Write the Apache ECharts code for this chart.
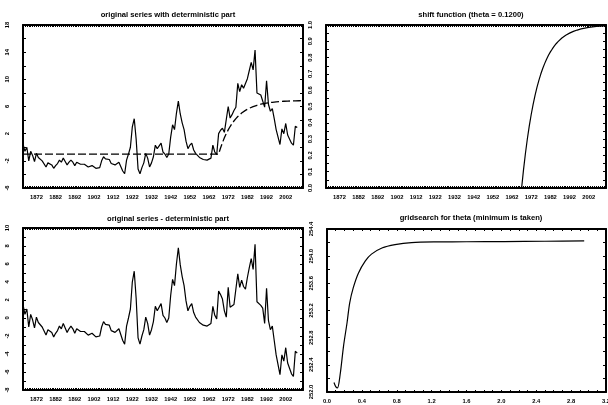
<!DOCTYPE html>
<html><head><meta charset="utf-8">
<script src="https://cdn.jsdelivr.net/npm/echarts@6/dist/echarts.min.js"></script>
<style>html,body{margin:0;padding:0;background:#fff}#c{width:608px;height:405px}</style>
</head><body><div id="c"></div>
<script>
// ---------- data ----------
const firstYear = 1865;
const original = [
  0.5, -0.6, 0.0, -2.0, -0.6, -1.2, -2.1, -0.9, -1.5, -1.7,
  -2.0, -1.9, -2.9, -2.3, -2.1, -2.6, -3.1, -2.7, -2.4, -1.9,
  -2.2, -1.6, -2.1, -2.6, -2.2, -1.9, -2.2, -2.7, -2.2, -2.1,
  -2.5, -2.4, -2.5, -2.7, -2.9, -2.8, -2.7, -2.8, -3.1, -3.0,
  -3.0, -2.0, -1.4, -1.7, -1.6, -1.8, -2.4, -2.6, -2.6, -2.8,
  -2.2, -2.4, -3.5, -3.9, -1.9, -1.0, 0.0, 3.0, 4.2, 1.2,
  -3.2, -3.9, -3.0, -2.3, -0.9, -1.6, -2.9, -2.3, -1.4, 0.3,
  -0.2, 0.0, 0.6, -0.7, -1.0, -1.5, -1.0, 1.5, 3.3, 2.6,
  5.0, 6.8, 4.9, 3.6, 2.6, 0.9, -0.2, 0.3, 0.6, -0.4,
  -0.9, -1.0, -1.5, -1.7, -1.8, -2.0, -1.9, -2.0, -1.6, 0.3,
  -0.7, -1.1, 2.0, 2.5, 2.8, 2.2, 2.1, 6.0, 4.3, 4.8,
  5.4, 5.9, 9.4, 8.2, 9.2, 8.7, 8.6, 10.1, 11.3, 12.5,
  11.4, 14.3, 8.0, 7.9, 7.7, 7.5, 5.9, 9.8, 6.3, 5.3,
  5.7, 4.2, 2.6, 2.6, 0.4, 2.7, 2.0, 3.5, 1.8, 1.7,
  0.6, 0.3, 3.1, 2.9
];
const residual = [
  1.5, 0.4, 1.0, -1.0, 0.4, -0.2, -1.1, 0.1, -0.5, -0.7,
  -1.0, -0.9, -1.9, -1.3, -1.1, -1.6, -2.1, -1.7, -1.4, -0.9,
  -1.2, -0.6, -1.1, -1.6, -1.2, -0.9, -1.2, -1.7, -1.2, -1.1,
  -1.5, -1.4, -1.5, -1.7, -1.9, -1.8, -1.7, -1.8, -2.1, -2.0,
  -2.0, -1.0, -0.4, -0.7, -0.6, -0.8, -1.4, -1.6, -1.6, -1.8,
  -1.2, -1.4, -2.5, -2.9, -0.9, 0.0, 1.0, 4.0, 5.2, 2.2,
  -2.2, -2.9, -2.0, -1.3, 0.1, -0.6, -1.9, -1.3, -0.4, 1.3,
  0.8, 1.0, 1.6, 0.3, 0.0, -0.5, 0.0, 2.5, 4.3, 3.6,
  6.0, 7.8, 5.9, 4.6, 3.6, 1.9, 0.8, 1.3, 1.6, 0.6,
  0.1, 0.0, -0.5, -0.7, -0.8, -1.0, -0.9, -1.0, -0.6, 1.3,
  0.3, -0.1, 3.0, 2.6, 2.1, 0.8, 0.1, 3.4, 1.2, 1.3,
  1.5, 1.7, 4.9, 3.4, 4.2, 3.5, 3.2, 4.5, 5.6, 6.6,
  5.4, 8.2, 1.8, 1.6, 1.4, 1.1, -0.6, 3.3, -0.3, -1.3,
  -0.9, -2.5, -4.1, -4.1, -6.3, -4.1, -4.8, -3.3, -5.0, -5.1,
  -6.2, -6.5, -3.7, -3.9
];
const detYears = [1865, 1967, 1968, 1969, 1970, 1971, 1972, 1973, 1974, 1975, 1976, 1977, 1978, 1979, 1980,
  1981, 1982, 1983, 1984, 1985, 1986, 1987, 1988, 1989, 1990, 1991, 1992, 1993, 1994, 1995, 1996,
  1997, 1998, 1999, 2000, 2001, 2002, 2003, 2004, 2005, 2006, 2007, 2008, 2009, 2010, 2011];
const detValues = [-1.0, -1.0, -0.11, 0.68, 1.39, 2.01, 2.56, 3.05, 3.49, 3.87, 4.21, 4.52, 4.79, 5.03, 5.24,
  5.43, 5.60, 5.74, 5.87, 5.99, 6.09, 6.18, 6.27, 6.34, 6.40, 6.46, 6.51, 6.55, 6.59, 6.62, 6.66,
  6.69, 6.71, 6.73, 6.75, 6.77, 6.78, 6.79, 6.81, 6.82, 6.83, 6.84, 6.84, 6.85, 6.85, 6.86];
const shiftYears = detYears;
const shiftValues = [0, 0, 0.113, 0.213, 0.302, 0.381, 0.451, 0.513, 0.568, 0.617, 0.660, 0.699, 0.733, 0.763, 0.790,
  0.814, 0.835, 0.853, 0.870, 0.885, 0.898, 0.909, 0.920, 0.929, 0.937, 0.944, 0.950, 0.956, 0.961, 0.965, 0.969,
  0.973, 0.976, 0.979, 0.981, 0.983, 0.985, 0.987, 0.988, 0.990, 0.991, 0.992, 0.993, 0.994, 0.994, 0.995];
const thetaGrid = [0.08, 0.10, 0.12, 0.15, 0.19, 0.23, 0.26, 0.30, 0.36, 0.44, 0.51, 0.63, 0.78, 0.97, 1.27, 1.6, 2.03, 2.5, 2.95];
const gridValues = [252.14, 252.08, 252.06, 252.25, 252.68, 253.02, 253.31, 253.53, 253.75, 253.93, 254.03, 254.12, 254.17, 254.20, 254.21, 254.212, 254.215, 254.22, 254.225];

// tick labels
const yearLabels = [1872, 1882, 1892, 1902, 1912, 1922, 1932, 1942, 1952, 1962, 1972, 1982, 1992, 2002];
const tlYLabels = [-6, -2, 2, 6, 10, 14, 18];
const trYLabels = [0.0, 0.1, 0.2, 0.3, 0.4, 0.5, 0.6, 0.7, 0.8, 0.9, 1.0];
const blYLabels = [-8, -6, -4, -2, 0, 2, 4, 6, 8, 10];
const brYLabels = [252.0, 252.4, 252.8, 253.2, 253.6, 254.0, 254.4];
const brXLabels = [0.0, 0.4, 0.8, 1.2, 1.6, 2.0, 2.4, 2.8, 3.2];

const titles = [
  'original series with deterministic part',
  'shift function (theta = 0.1200)',
  'original series - deterministic part',
  'gridsearch for theta (minimum is taken)'
];

// ---------- helpers ----------
function steps(a, b, s) { const r = []; const n = Math.round((b - a) / s); for (let i = 0; i <= n; i++) r.push(+(a + i * s).toFixed(4)); return r; }
const FONT = 'Liberation Sans';
const lblStyle = { fontSize: 5.8, fontWeight: 'bold', color: '#000', fontFamily: FONT };

const xAxes = [], yAxes = [];
function addFrame(gi, xr, yr, xLab, xTicks, yLab, yTicks, xFmt, yFmt) {
  ['bottom', 'top'].forEach((pos, k) => {
    xAxes.push({
      type: 'value', gridIndex: gi, position: pos, min: xr[0], max: xr[1],
      axisLine: { show: true, onZero: false, lineStyle: { color: '#000', width: 2 } },
      axisTick: { show: true, inside: true, length: 2, customValues: xTicks, lineStyle: { color: '#000', width: 1 } },
      axisLabel: Object.assign({ show: k === 0, customValues: xLab, formatter: xFmt, margin: 6 }, lblStyle),
      splitLine: { show: false }
    });
  });
  ['left', 'right'].forEach((pos, k) => {
    yAxes.push({
      type: 'value', gridIndex: gi, position: pos, min: yr[0], max: yr[1],
      axisLine: { show: true, onZero: false, lineStyle: { color: '#000', width: 2 } },
      axisTick: { show: true, inside: true, length: 3, customValues: yTicks, lineStyle: { color: '#000', width: 1 } },
      axisLabel: Object.assign({ show: k === 0, customValues: yLab, formatter: yFmt, rotate: 90, margin: 13 }, lblStyle),
      splitLine: { show: false }
    });
  });
}
const intFmt = v => String(Math.round(v));
const f1 = v => (+v).toFixed(1);
const yearTicks = steps(1865, 2011, 1);

addFrame(0, [1865, 2011], [-6, 18], yearLabels, yearTicks, tlYLabels, steps(-6, 18, 2), intFmt, intFmt);
addFrame(1, [1865, 2011], [0, 1], yearLabels, yearTicks, trYLabels, steps(0, 1, 0.05), intFmt, f1);
addFrame(2, [1865, 2011], [-8, 10], yearLabels, yearTicks, blYLabels, steps(-8, 10, 1), intFmt, intFmt);
addFrame(3, [0, 3.2], [252.0, 254.4], brXLabels, steps(0, 3.2, 0.1), brYLabels, steps(252, 254.4, 0.2), f1, f1);

const yearsOf = arr => arr.map((v, i) => [firstYear + i, v]);
const zipXY = (xs, ys) => xs.map((x, i) => [x, ys[i]]);
const lineBase = { type: 'line', showSymbol: false, symbol: 'none', animation: false, clip: true };

const option = {
  animation: false,
  backgroundColor: '#fff',
  title: titles.map((t, i) => ({
    text: t,
    left: [163, 466, 163, 466][i],
    top: [6, 6, 210, 209][i],
    textAlign: 'center',
    textStyle: { fontSize: 7.6, fontWeight: 'bold', color: '#000', fontFamily: FONT }
  })),
  grid: [
    { left: 23, top: 25, width: 280, height: 163, outerBoundsMode: 'none' },
    { left: 326, top: 25, width: 280, height: 163, outerBoundsMode: 'none' },
    { left: 23, top: 228, width: 280, height: 162, outerBoundsMode: 'none' },
    { left: 327, top: 229, width: 279, height: 163, outerBoundsMode: 'none' }
  ],
  xAxis: xAxes,
  yAxis: yAxes,
  series: [
    Object.assign({}, lineBase, { name: 'original', xAxisIndex: 0, yAxisIndex: 0, data: yearsOf(original), lineStyle: { color: '#000', width: 1.2 } }),
    Object.assign({}, lineBase, { name: 'deterministic', xAxisIndex: 0, yAxisIndex: 0, data: zipXY(detYears, detValues), lineStyle: { color: '#000', width: 1.3, type: [8, 3] } }),
    Object.assign({}, lineBase, { name: 'shift', xAxisIndex: 2, yAxisIndex: 2, data: zipXY(shiftYears, shiftValues), lineStyle: { color: '#000', width: 1.2 } }),
    Object.assign({}, lineBase, { name: 'residual', xAxisIndex: 4, yAxisIndex: 4, data: yearsOf(residual), lineStyle: { color: '#000', width: 1.2 } }),
    Object.assign({}, lineBase, { name: 'gridsearch', xAxisIndex: 6, yAxisIndex: 6, smooth: 0.3, data: zipXY(thetaGrid, gridValues), lineStyle: { color: '#000', width: 1.2 } })
  ]
};
const chart = echarts.init(document.getElementById('c'), null, { renderer: 'canvas' });
chart.setOption(option);
</script>
</body></html>
